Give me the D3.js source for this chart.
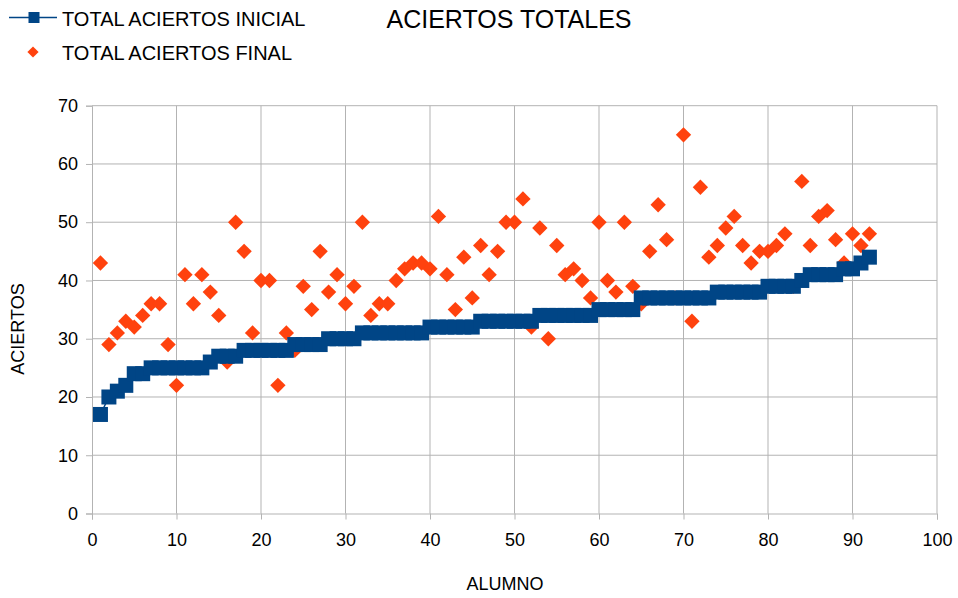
<!DOCTYPE html>
<html lang="es">
<head>
<meta charset="UTF-8">
<title>ACIERTOS TOTALES</title>
<script src="https://d3js.org/d3.v7.min.js"></script>
<style>
  body { margin: 0; background: #fff; }
  text { font-family: "Liberation Sans", Arial, sans-serif; fill: #000; }
</style>
</head>
<body>
<script>
// alumno 1..92
const alumnos = d3.range(1, 93);
const totalInicial = [17, 20, 21, 22, 24, 24, 25, 25, 25, 25, 25, 25, 25, 26, 27, 27, 27, 28, 28, 28,
  28, 28, 28, 29, 29, 29, 29, 30, 30, 30, 30, 31, 31, 31, 31, 31, 31, 31, 31, 32,
  32, 32, 32, 32, 32, 33, 33, 33, 33, 33, 33, 33, 34, 34, 34, 34, 34, 34, 34, 35,
  35, 35, 35, 35, 37, 37, 37, 37, 37, 37, 37, 37, 37, 38, 38, 38, 38, 38, 38, 39,
  39, 39, 39, 40, 41, 41, 41, 41, 42, 42, 43, 44];
const totalFinal = [43, 29, 31, 33, 32, 34, 36, 36, 29, 22, 41, 36, 41, 38, 34, 26, 50, 45, 31, 40,
  40, 22, 31, 28, 39, 35, 45, 38, 41, 36, 39, 50, 34, 36, 36, 40, 42, 43, 43, 42,
  51, 41, 35, 44, 37, 46, 41, 45, 50, 50, 54, 32, 49, 30, 46, 41, 42, 40, 37, 50,
  40, 38, 50, 39, 36, 45, 53, 47, 37, 65, 33, 56, 44, 46, 49, 51, 46, 43, 45, 45,
  46, 48, 39, 57, 46, 51, 52, 47, 43, 48, 46, 48];
const xTicks = d3.range(0, 101, 10);
const yTicks = d3.range(0, 71, 10);

const width = 958, height = 598;
const blue = "#004586", orange = "#ff420e", grid = "#b3b3b3";

const svg = d3.select("body").append("svg").attr("width", width).attr("height", height);

const x = d3.scaleLinear().domain([0, 100]).range([92, 937]);
const y = d3.scaleLinear().domain([0, 70]).range([513.5, 105.7]);

// grid
svg.append("g").selectAll("line").data(xTicks.slice(1))
  .join("line")
  .attr("x1", d => x(d)).attr("x2", d => x(d))
  .attr("y1", y(0)).attr("y2", y(70))
  .attr("stroke", grid);
svg.append("g").selectAll("line").data(yTicks.slice(1))
  .join("line")
  .attr("x1", x(0)).attr("x2", x(100))
  .attr("y1", d => y(d)).attr("y2", d => y(d))
  .attr("stroke", grid);

// axes
const xAxis = svg.append("g").attr("transform", `translate(0,${y(0)})`)
  .call(d3.axisBottom(x).tickValues(xTicks).tickSize(6).tickPadding(14).tickFormat(d3.format("d")));
const yAxis = svg.append("g").attr("transform", `translate(${x(0)},0)`)
  .call(d3.axisLeft(y).tickValues(yTicks).tickSize(6).tickPadding(8).tickFormat(d3.format("d")));
[xAxis, yAxis].forEach(a => {
  a.select(".domain").attr("stroke", grid);
  a.selectAll(".tick line").attr("stroke", grid);
  a.selectAll(".tick text").attr("font-size", 18).attr("font-family", "Liberation Sans, Arial, sans-serif").attr("fill", "#000");
});

// final series (diamonds)
const diamond = d3.symbol().type(d3.symbolDiamond2).size(150);
svg.append("g").selectAll("path").data(alumnos)
  .join("path")
  .attr("d", diamond)
  .attr("transform", (d, i) => `translate(${x(d)},${y(totalFinal[i])})`)
  .attr("fill", orange);

// initial series (line + squares)
const line = d3.line().x((d, i) => x(alumnos[i])).y(d => y(d));
svg.append("path").datum(totalInicial)
  .attr("d", line).attr("fill", "none").attr("stroke", blue).attr("stroke-width", 1.5);
const sq = 15;
svg.append("g").selectAll("rect").data(totalInicial)
  .join("rect")
  .attr("x", (d, i) => x(alumnos[i]) - sq / 2)
  .attr("y", d => y(d) - sq / 2)
  .attr("width", sq).attr("height", sq)
  .attr("fill", blue);

// title
svg.append("text").attr("x", 509).attr("y", 28).attr("text-anchor", "middle")
  .attr("font-size", 25).text("ACIERTOS TOTALES");

// axis titles
svg.append("text").attr("x", 505).attr("y", 590).attr("text-anchor", "middle")
  .attr("font-size", 18).text("ALUMNO");
svg.append("text").attr("transform", "translate(24,329) rotate(-90)").attr("text-anchor", "middle")
  .attr("font-size", 18).text("ACIERTOS");

// legend
const lg = svg.append("g");
lg.append("line").attr("x1", 9).attr("x2", 57).attr("y1", 17.5).attr("y2", 17.5)
  .attr("stroke", blue).attr("stroke-width", 1.5);
lg.append("rect").attr("x", 28.5).attr("y", 12).attr("width", 11).attr("height", 11).attr("fill", blue);
lg.append("text").attr("x", 62).attr("y", 26).attr("font-size", 20).text("TOTAL ACIERTOS INICIAL");
lg.append("path").attr("d", d3.symbol().type(d3.symbolDiamond2).size(80))
  .attr("transform", "translate(33,52)").attr("fill", orange);
lg.append("text").attr("x", 62).attr("y", 60).attr("font-size", 20).text("TOTAL ACIERTOS FINAL");
</script>
</body>
</html>
